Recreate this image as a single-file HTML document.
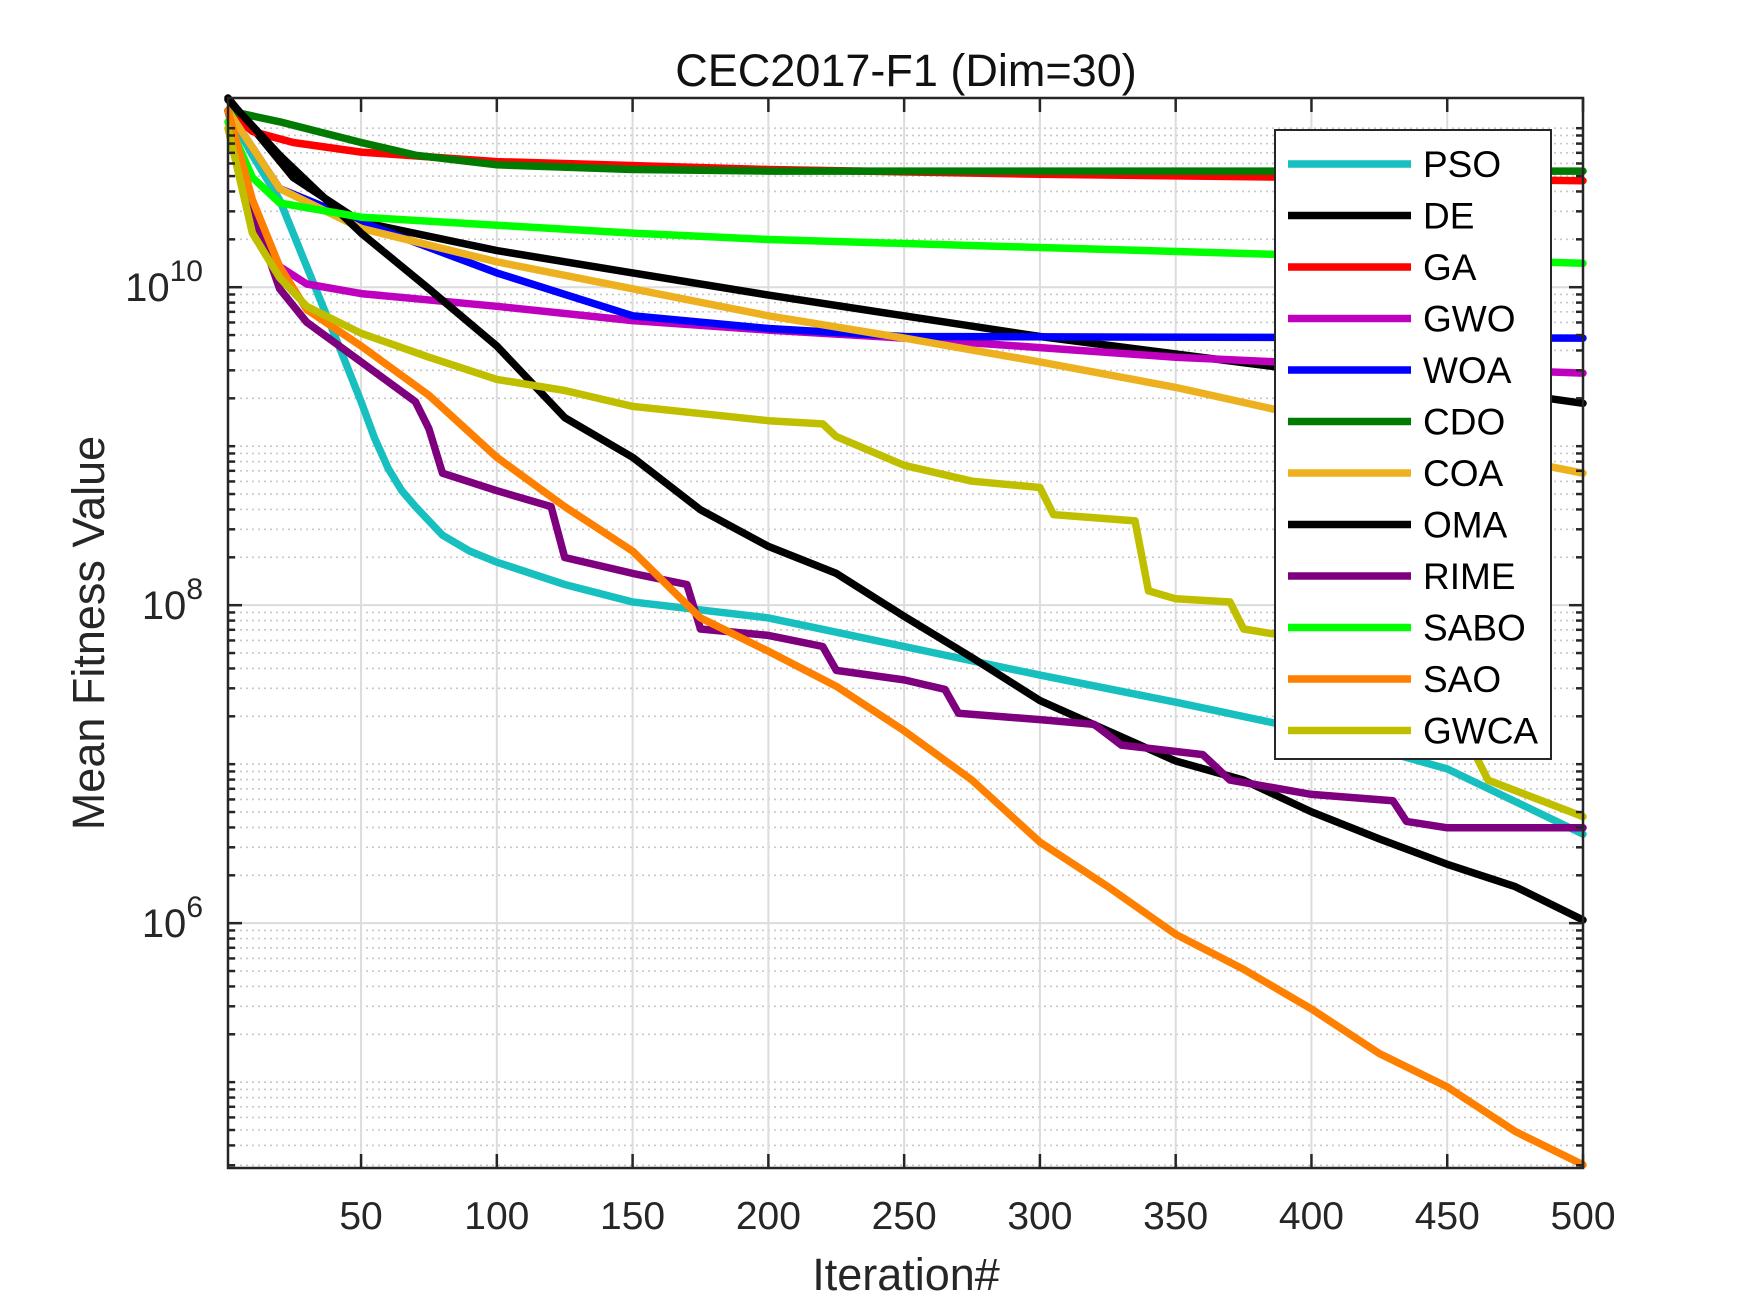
<!DOCTYPE html>
<html><head><meta charset="utf-8"><style>
body{margin:0;background:#fff;}
svg{display:block;font-family:"Liberation Sans",Arial,sans-serif;}
</style></head><body>
<svg id="chart" width="1750" height="1313" viewBox="0 0 1750 1313" xmlns="http://www.w3.org/2000/svg">
<rect width="1750" height="1313" fill="#fff"/>
<g id="grid"></g><g id="series"></g><g id="axes"></g><g id="legend"></g>
<text x="906" y="86" font-size="45" text-anchor="middle" fill="#111">CEC2017-F1 (Dim=30)</text>
<text x="906" y="1290" font-size="45" text-anchor="middle" fill="#262626">Iteration#</text>
<text transform="translate(104,633) rotate(-90)" font-size="45" text-anchor="middle" fill="#262626">Mean Fitness Value</text>
</svg>
<script>
// values: [iteration, log10(mean fitness)]
const seriesNames = ["PSO","DE","GA","GWO","WOA","CDO","COA","OMA","RIME","SABO","SAO","GWCA"];
const seriesColors = ["#17bfbf","#000000","#ff0000","#bf00bf","#0000ff","#007a00","#edb120","#000000","#7e007e","#00ff00","#ff8000","#bfbf00"];
const pso = [[1,11.11],[10,10.83],[20,10.55],[30,10.13],[40,9.71],[50,9.28],[55,9.05],[60,8.86],[65,8.72],[70,8.62],[80,8.44],[90,8.34],[100,8.27],[125,8.13],[150,8.02],[200,7.92],[250,7.74],[300,7.56],[350,7.39],[400,7.21],[450,6.97],[500,6.56]];
const de = [[1,11.19],[25,10.69],[50,10.41],[100,10.23],[150,10.09],[200,9.95],[250,9.82],[300,9.69],[350,9.58],[400,9.47],[450,9.39],[500,9.27]];
const ga = [[1,11.11],[10,10.98],[25,10.91],[50,10.85],[100,10.79],[200,10.74],[300,10.71],[500,10.67]];
const gwo = [[1,11.11],[10,10.48],[20,10.13],[30,10.02],[50,9.96],[100,9.88],[150,9.79],[200,9.73],[250,9.68],[300,9.62],[350,9.56],[400,9.52],[500,9.46]];
const woa = [[1,11.11],[20,10.62],[50,10.41],[100,10.09],[150,9.82],[200,9.74],[250,9.69],[500,9.68]];
const cdo = [[1,11.11],[20,11.04],[50,10.91],[70,10.83],[100,10.77],[150,10.74],[200,10.73],[500,10.73]];
const coa = [[1,11.11],[20,10.62],[50,10.37],[100,10.16],[150,9.99],[200,9.82],[250,9.68],[300,9.53],[350,9.37],[400,9.18],[450,9.0],[500,8.83]];
const oma = [[1,11.18],[20,10.83],[50,10.34],[75,9.99],[100,9.63],[125,9.18],[150,8.93],[175,8.6],[200,8.37],[225,8.2],[250,7.93],[275,7.67],[300,7.4],[325,7.21],[350,7.02],[375,6.9],[400,6.7],[425,6.53],[450,6.37],[475,6.23],[500,6.02]];
const rime = [[1,11.11],[10,10.48],[20,9.99],[30,9.78],[50,9.53],[70,9.28],[75,9.11],[80,8.83],[100,8.72],[120,8.62],[125,8.3],[150,8.2],[170,8.13],[175,7.85],[200,7.81],[220,7.74],[225,7.59],[250,7.53],[265,7.47],[270,7.32],[300,7.28],[320,7.25],[330,7.12],[360,7.06],[370,6.9],[400,6.81],[430,6.77],[435,6.64],[450,6.6],[500,6.6]];
const sabo = [[1,11.04],[10,10.69],[20,10.53],[50,10.44],[100,10.39],[150,10.34],[200,10.3],[300,10.25],[400,10.2],[500,10.15]];
const sao = [[1,11.11],[10,10.55],[20,10.13],[30,9.86],[50,9.63],[75,9.32],[100,8.93],[125,8.62],[150,8.34],[175,7.92],[200,7.71],[225,7.49],[250,7.21],[275,6.9],[300,6.51],[325,6.23],[350,5.93],[375,5.71],[400,5.46],[425,5.18],[450,4.97],[475,4.69],[500,4.48]];
const gwca = [[1,11.0],[10,10.34],[20,10.06],[30,9.88],[50,9.71],[75,9.56],[100,9.42],[125,9.35],[150,9.25],[200,9.16],[220,9.14],[225,9.06],[250,8.88],[275,8.78],[300,8.74],[305,8.57],[335,8.53],[340,8.09],[350,8.04],[370,8.02],[375,7.85],[400,7.78],[410,7.6],[450,7.18],[460,7.07],[465,6.9],[500,6.67]];
const xTicks = [50,100,150,200,250,300,350,400,450,500];
const yTickExps = [6,8,10];
const allSeries = [pso,de,ga,gwo,woa,cdo,coa,oma,rime,sabo,sao,gwca];

const L=228,R=1583,T=98,B=1168;
const xMin=1,xMax=500,yMin=4.46,yMax=11.19;
const NS="http://www.w3.org/2000/svg";
function X(v){return L+(v-xMin)/(xMax-xMin)*(R-L);}
function Y(lv){return B-(lv-yMin)/(yMax-yMin)*(B-T);}
function mk(tag,attrs,parent){const e=document.createElementNS(NS,tag);for(const k in attrs)e.setAttribute(k,attrs[k]);parent.appendChild(e);return e;}
const grid=document.getElementById('grid'),axes=document.getElementById('axes'),ser=document.getElementById('series'),leg=document.getElementById('legend');

for(let e=4;e<=11;e++){for(let k=1;k<=9;k++){const lv=e+Math.log10(k);if(lv<yMin||lv>yMax)continue;const y=Y(lv);
 const major=(k===1&&yTickExps.includes(e));
 const g=mk('line',{x1:L,x2:R,y1:y,y2:y,stroke:major?'#dcdcdc':'#c8c8c8','stroke-width':major?2:1.6,'stroke-dasharray':major?'':'2 4'},grid);
 
 
 const len=major?14:7;
 const t1=mk('line',{x1:L,x2:L+len,y1:y,y2:y,stroke:'#262626','stroke-width':2.5},axes);
 
 
 const t2=mk('line',{x1:R,x2:R-len,y1:y,y2:y,stroke:'#262626','stroke-width':2.5},axes);
 
 
}}
xTicks.forEach(v=>{const x=X(v);
 const g=mk('line',{x1:x,x2:x,y1:T,y2:B,stroke:'#dcdcdc','stroke-width':2},grid);
 
 
 [[B,B-14],[T,T+14]].forEach(p=>{const t=mk('line',{x1:x,x2:x,y1:p[0],y2:p[1],stroke:'#262626','stroke-width':2.5},axes);
 
 });
 const lb=mk('text',{x:x,y:1229,'font-size':39,'text-anchor':'middle',fill:'#262626'},axes);lb.textContent=v;
 
 
});
yTickExps.forEach(e=>{const y=Y(e);
 const t=mk('text',{x:203,y:y+14,'font-size':40,'text-anchor':'end',fill:'#262626'},axes);
 t.textContent='10';
 const s=mk('tspan',{dy:-20,'font-size':30},t);s.textContent=e;
 
 
});
const box=mk('rect',{x:L,y:T,width:R-L,height:B-T,fill:'none',stroke:'#262626','stroke-width':2.5},axes);



allSeries.forEach((d,i)=>{
 const p=mk('polyline',{points:d.map(q=>X(q[0]).toFixed(1)+','+Y(q[1]).toFixed(1)).join(' '),fill:'none',stroke:seriesColors[i],'stroke-width':7.5,'stroke-linejoin':'round','stroke-linecap':'round'},ser);
 
 
});

const lb=mk('rect',{x:1275,y:130,width:276,height:629,fill:'#fff',stroke:'#262626','stroke-width':2},leg);


seriesNames.forEach((n,i)=>{const y=164+i*51.5;
 const g=mk('g',{},leg);
 
 
 mk('line',{x1:1288,x2:1411,y1:y,y2:y,stroke:seriesColors[i],'stroke-width':7.5},g);
 const t=mk('text',{x:1423,y:y+13,'font-size':37,fill:'#000'},g);t.textContent=n;
});
</script>
</body></html>
